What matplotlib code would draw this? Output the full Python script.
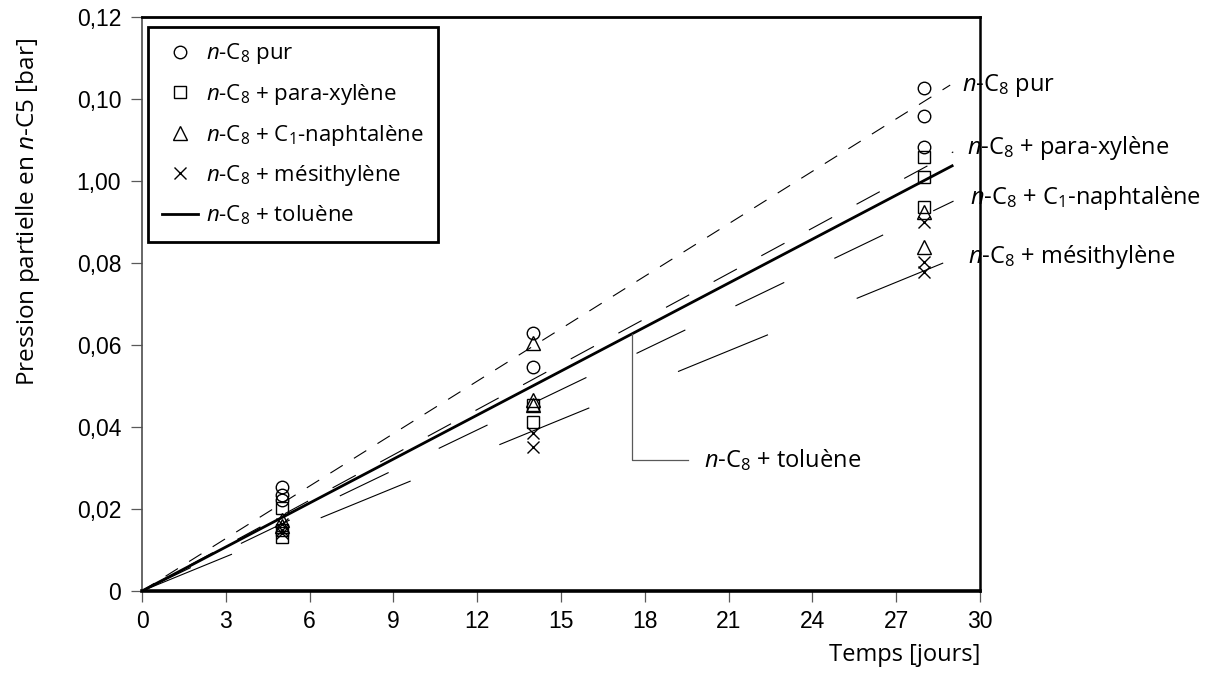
import matplotlib
matplotlib.use("Agg")
import matplotlib.pyplot as plt
import numpy as np

plt.rcParams['mathtext.fontset'] = 'custom'
plt.rcParams['mathtext.rm'] = 'Open Sans'
plt.rcParams['mathtext.it'] = 'Open Sans:italic'
plt.rcParams['lines.scale_dashes'] = False

# y axis: 8 evenly spaced ticks, labelled as in the original (incl. the odd "1,00")
y_ticks = [0, 0.02, 0.04, 0.06, 0.08, 0.10, 0.12, 0.14]
y_ticklabels = ["0", "0,02", "0,04", "0,06", "0,08", "1,00", "0,10", "0,12"]
x_ticks = [0, 3, 6, 9, 12, 15, 18, 21, 24, 27, 30]

# measured points (day, pressure)
pur_x = [5, 5, 5, 14, 14, 28, 28, 28]
pur_y = [0.0254, 0.0234, 0.0222, 0.0629, 0.0546, 0.1227, 0.1159, 0.1083]
para_x = [5, 5, 5, 14, 14, 28, 28, 28]
para_y = [0.0202, 0.0149, 0.0132, 0.0454, 0.0412, 0.1059, 0.1010, 0.0937]
naph_x = [5, 5, 14, 14, 14, 28, 28]
naph_y = [0.0173, 0.0159, 0.0605, 0.0466, 0.0454, 0.0924, 0.0839]
mes_x = [5, 5, 5, 14, 14, 28, 28, 28]
mes_y = [0.0163, 0.0149, 0.0141, 0.0385, 0.0351, 0.0900, 0.0802, 0.0778]

# fitted lines through origin: end points
pur_line = ([0, 28.93], [0, 0.1234])
para_line = ([0, 29.04], [0, 0.1071])
naph_line = ([0, 29.05], [0, 0.0951])
mes_line = ([0, 28.68], [0, 0.0800])
tol_line = ([0, 29.00], [0, 0.1037])

lbl_pur = r"$n$-C$_\mathrm{8}$ pur"
lbl_para = r"$n$-C$_\mathrm{8}$ + para-xylène"
lbl_naph = r"$n$-C$_\mathrm{8}$ + C$_\mathrm{1}$-naphtalène"
lbl_mes = r"$n$-C$_\mathrm{8}$ + mésithylène"
lbl_tol = r"$n$-C$_\mathrm{8}$ + toluène"

TXT = "Open Sans"
NUM = "Liberation Sans"

fig = plt.figure(figsize=(12.19, 6.86), dpi=100)
ax = fig.add_axes([0.1165, 0.1385, 0.6875, 0.8367])

# lines
ax.plot(*pur_line, color="black", lw=0.8, dashes=(10.5, 9.5))
ax.plot(*para_line, color="black", lw=0.8, dashes=(19, 20))
ax.plot(*naph_line, color="black", lw=0.8, dashes=(39, 40))
ax.plot(*mes_line, color="black", lw=0.8, dashes=(70, 69))
h_tol, = ax.plot(*tol_line, color="black", lw=2.0, label=lbl_tol)

# markers
mk = dict(linestyle="none", markerfacecolor="none", markeredgecolor="black",
          markeredgewidth=1.0)
h_pur, = ax.plot(pur_x, pur_y, marker="o", markersize=9, label=lbl_pur, **mk)
h_para, = ax.plot(para_x, para_y, marker="s", markersize=8.5, label=lbl_para, **mk)
h_naph, = ax.plot(naph_x, naph_y, marker="^", markersize=9.5, label=lbl_naph, **mk)
h_mes, = ax.plot(mes_x, mes_y, marker="x", markersize=9, label=lbl_mes, **mk)

# labels at the right end of each line
right_labels = [lbl_pur, lbl_para, lbl_naph, lbl_mes]
right_x = [29.36, 29.54, 29.65, 29.57]
right_y = [0.1234, 0.1081, 0.0959, 0.0815]
for t, xx, yy in zip(right_labels, right_x, right_y):
    ax.text(xx, yy, t, fontsize=17, family=TXT, ha="left", va="center",
            clip_on=False)

# toluene callout
xa, xb, y_low = 17.55, 19.55, 0.0320
y_on = tol_line[1][1] / tol_line[0][1] * xa
ax.plot([xa, xa, xb], [y_on, y_low, y_low], color="0.35", lw=0.9)
ax.text(20.1, y_low, lbl_tol, fontsize=17, family=TXT, ha="left", va="center")

ax.set_xlim(0, 30)
ax.set_ylim(0, 0.14)
ax.set_xticks(x_ticks)
ax.set_xticklabels([str(v) for v in x_ticks], family=NUM)
ax.set_yticks(y_ticks)
ax.set_yticklabels(y_ticklabels, family=NUM)
ax.tick_params(direction="out", length=8, width=0.9, color="0.35",
               labelsize=16.5)
ax.tick_params(axis="x", pad=6)
ax.tick_params(axis="y", pad=7)

ax.spines["left"].set_linewidth(1.2)
ax.spines["left"].set_color("0.3")
ax.spines["bottom"].set_linewidth(2.6)
ax.spines["top"].set_linewidth(2.0)
ax.spines["right"].set_linewidth(1.8)

ax.set_xlabel("Temps [jours]", loc="right", fontsize=17, family=TXT, labelpad=7)
fig.text(28 / 1219, 1 - 212 / 686, r"Pression partielle en $n$-C5 [bar]",
         rotation=90, ha="center", va="center", fontsize=17.5, family=TXT)

leg = ax.legend(handles=[h_pur, h_para, h_naph, h_mes, h_tol],
                loc="upper left", bbox_to_anchor=(148 / 1219, 1 - 27 / 686),
                bbox_transform=fig.transFigure, borderaxespad=0,
                prop={"family": TXT, "size": 16}, frameon=True, fancybox=False,
                edgecolor="black", framealpha=1, labelspacing=0.7,
                handlelength=1.6, handletextpad=0.35, borderpad=0.65)
leg.get_frame().set_linewidth(2.0)

fig.savefig("out.png", dpi=100)
